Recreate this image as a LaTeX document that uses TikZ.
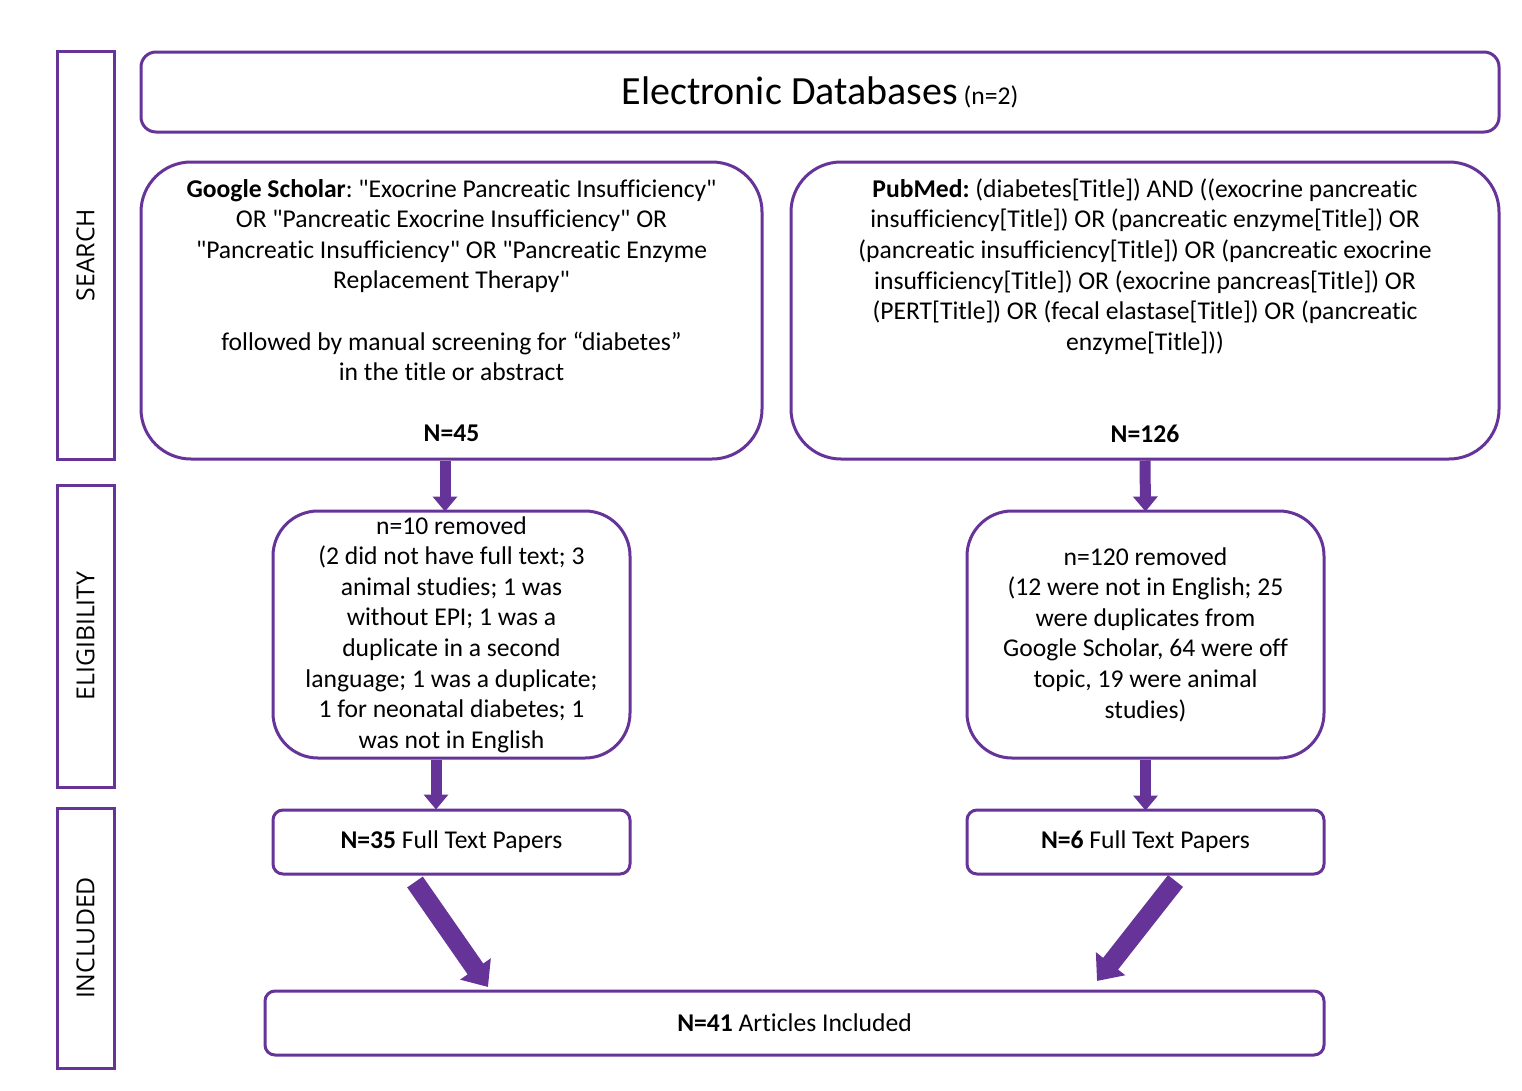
\documentclass[tikz,border=0pt]{standalone}
\usepackage{fontspec}
\setmainfont{Carlito}[Ligatures={NoCommon,TeXOff}]
\newfontfamily\sidefont{Open Sans}
\usetikzlibrary{arrows.meta}
\definecolor{pur}{RGB}{102,51,153}
\frenchspacing
\begin{document}
\begin{tikzpicture}[x=1pt,y=-1pt,
  box/.style={draw=pur, line width=3pt, align=center, inner sep=0pt, font=\fontsize{25.6}{30.6}\selectfont\frenchspacing},
  sidebox/.style={draw=pur, line width=3pt, minimum width=57pt, inner sep=0pt},
  sidelabel/.style={rotate=90, inner sep=0pt, font=\sidefont\fontsize{24.8}{28}\selectfont},
  arr/.style={draw=pur, line width=11pt, -{Triangle[width=24pt,length=15pt]}},
  bigarr/.style={draw=pur, line width=19pt, -{Triangle[width=36pt,length=22pt]}}]
\useasboundingbox (0,0) rectangle (1522,1090);

% side boxes
\node[sidebox, minimum height=408pt] (s1) at (85.5,255) {};
\node[sidelabel] (l1) at (s1.center) {SEARCH};
\node[sidebox, minimum height=302pt] (s2) at (85.5,636) {};
\node[sidelabel] (l2) at (s2.center) {ELIGIBILITY};
\node[sidebox, minimum height=260pt] (s3) at (85.5,938) {};
\node[sidelabel] (l3) at (s3.center) {INCLUDED};

% top box
\node[box, rounded corners=15pt, minimum width=1358pt, minimum height=80pt] (db) at (820,92)
  {{\fontsize{40}{44}\selectfont Electronic Databases} (n=2)};

% search boxes
\node[box, rounded corners=50pt, minimum width=621pt, minimum height=297pt] (gs) at (451.5,310.5)
  {\textbf{Google Scholar}: "Exocrine Pancreatic Insufficiency"\\
   OR "Pancreatic Exocrine Insufficiency" OR\\
   "Pancreatic Insufficiency" OR "Pancreatic Enzyme\\
   Replacement Therapy"\\[30.6pt]
   followed by manual screening for “diabetes”\\
   in the title or abstract\\[30.6pt]
   \textbf{N=45}};
\node[box, rounded corners=50pt, minimum width=708pt, minimum height=297pt] (pm) at (1145,310.5)
  {\textbf{PubMed:} (diabetes[Title]) AND ((exocrine pancreatic\\
   insufficiency[Title]) OR (pancreatic enzyme[Title]) OR\\
   (pancreatic insufficiency[Title]) OR (pancreatic exocrine\\
   insufficiency[Title]) OR (exocrine pancreas[Title]) OR\\
   (PERT[Title]) OR (fecal elastase[Title]) OR (pancreatic\\
   enzyme[Title]))\\[61.2pt]
   \textbf{N=126}};

% eligibility boxes
\node[box, rounded corners=45pt, minimum width=357pt, minimum height=247pt] (le) at (451.5,634.5)
  {n=10 removed\\
   (2 did not have full text; 3\\
   animal studies; 1 was\\
   without EPI; 1 was a\\
   duplicate in a second\\
   language; 1 was a duplicate;\\
   1 for neonatal diabetes; 1\\
   was not in English};
\node[box, rounded corners=45pt, minimum width=357pt, minimum height=247pt] (re) at (1145.5,634.5)
  {n=120 removed\\
   (12 were not in English; 25\\
   were duplicates from\\
   Google Scholar, 64 were off\\
   topic, 19 were animal\\
   studies)};

% included boxes
\node[box, rounded corners=10pt, minimum width=357pt, minimum height=64pt] (n35) at (451.5,842)
  {\textbf{N=35} Full Text Papers};
\node[box, rounded corners=10pt, minimum width=357pt, minimum height=64pt] (n6) at (1145.5,842)
  {\textbf{N=6} Full Text Papers};
\node[box, rounded corners=10pt, minimum width=1059pt, minimum height=64pt] (fin) at (794.5,1023)
  {\textbf{N=41} Articles Included};

% arrows
\draw[arr] ([xshift=-6.5pt]gs.south) -- ([xshift=-6.5pt,yshift=-2pt]le.north);
\draw[arr] (pm.south) -- ([yshift=-2pt]re.north);
\draw[arr] ([xshift=-15.5pt]le.south) -- ([xshift=-15.5pt,yshift=-1pt]n35.north);
\draw[arr] (re.south) -- ([yshift=-2pt]n6.north);

\coordinate (d1a) at (415,882);
\coordinate (d1b) at (488,987);
\coordinate (d2a) at (1175.5,881);
\coordinate (d2b) at (1097,981);
\draw[bigarr] (d1a) -- (d1b);
\draw[bigarr] (d2a) -- (d2b);
\end{tikzpicture}
\end{document}
